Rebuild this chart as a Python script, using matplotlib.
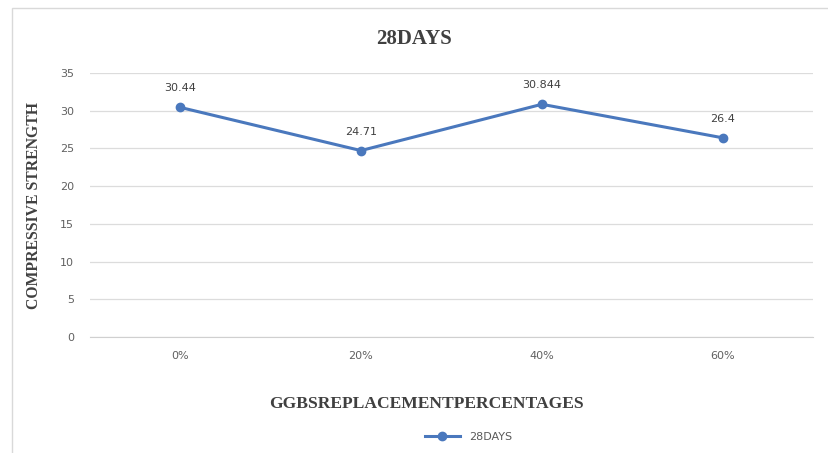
import matplotlib
matplotlib.use('Agg')
import matplotlib.pyplot as plt
from matplotlib.patches import Rectangle

categories = ['0%', '20%', '40%', '60%']
strength_28 = [30.44, 24.71, 30.844, 26.4]
value_labels = ['30.44', '24.71', '30.844', '26.4']
series_name = '28DAYS'

lineColor = '#4a78bd'
gridColor = '#dcdcdc'
tickColor = '#606060'

fig = plt.figure(figsize=(8.29, 4.53), dpi=100)
ax = fig.add_axes([0.108, 0.256, 0.873, 0.583])

# light frame around the chart area, like the exported office chart
fig.patches.append(Rectangle((0.0145, -0.05), 1.2, 1.032, transform=fig.transFigure,
                             fill=False, edgecolor='#d9d9d9', linewidth=1.0))

x = list(range(len(categories)))
ax.plot(x, strength_28, color=lineColor, linewidth=2.2, marker='o', markersize=6,
        label=series_name, zorder=3)
for i, txt in enumerate(value_labels):
    ax.annotate(txt, (x[i], strength_28[i]), xytext=(0, 10), textcoords='offset points',
                ha='center', va='bottom', fontsize=8, color='#404040')

ax.set_xlim(-0.5, len(categories) - 0.5)
ax.set_ylim(0, 35)
ax.set_yticks(range(0, 36, 5))
ax.set_xticks(x)
ax.set_xticklabels(categories)
ax.yaxis.grid(True, color=gridColor, linewidth=0.9)
ax.set_axisbelow(True)
for s in ['top', 'right', 'left']:
    ax.spines[s].set_visible(False)
ax.spines['bottom'].set_color('#d0d0d0')
ax.tick_params(axis='both', length=0, labelsize=8, labelcolor=tickColor, pad=10)
ax.tick_params(axis='y', pad=11)

fig.text(0.5, 0.915, '28DAYS', ha='center', va='center', fontsize=15,
         fontweight='bold', family='Liberation Serif', color='#404040')
ax.set_ylabel('COMPRESSIVE STRENGTH', fontsize=11.3, fontweight='bold',
              family='Liberation Serif', color='#404040')
ax.yaxis.set_label_coords(-0.066, 0.497)
ax.set_xlabel('GGBSREPLACEMENTPERCENTAGES', fontsize=12.6, fontweight='bold',
              family='Liberation Serif', color='#404040')
ax.xaxis.set_label_coords(0.465, -0.222)

leg = fig.legend(loc='center', bbox_to_anchor=(0.565, 0.036), frameon=False,
                 fontsize=8, handlelength=3.2, labelcolor='#595959')

fig.savefig('out.png', dpi=100, facecolor='white')
